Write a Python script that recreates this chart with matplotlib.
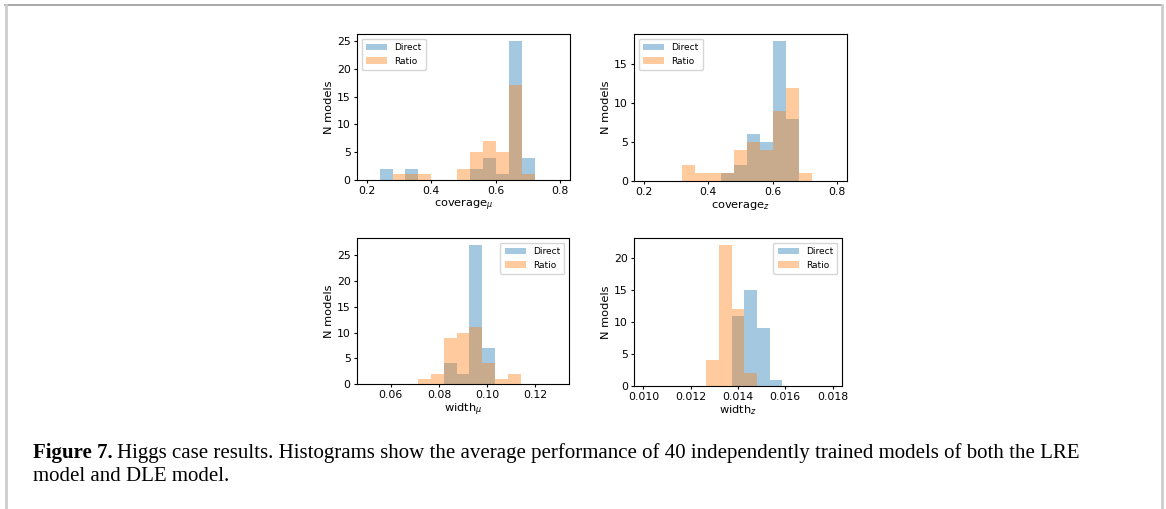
import numpy as np
import matplotlib
matplotlib.use("Agg")
import matplotlib.pyplot as plt
from matplotlib.lines import Line2D
from matplotlib.text import Annotation

# Histogram counts (15 bins over each range)
COV_MU_RANGE = (0.2, 0.8)
COV_MU_DIRECT = [0, 2, 0, 2, 0, 0, 0, 0, 2, 4, 1, 25, 4, 0, 0]
COV_MU_RATIO = [0, 0, 1, 1, 1, 0, 0, 2, 5, 7, 5, 17, 1, 0, 0]

COV_Z_RANGE = (0.2, 0.8)
COV_Z_DIRECT = [0, 0, 0, 0, 0, 0, 1, 2, 6, 5, 18, 8, 0, 0, 0]
COV_Z_RATIO = [0, 0, 0, 2, 1, 1, 1, 4, 5, 4, 9, 12, 1, 0, 0]

WID_MU_RANGE = (0.05, 0.13)
WID_MU_DIRECT = [0, 0, 0, 0, 0, 0, 4, 2, 27, 7, 0, 0, 0, 0, 0]
WID_MU_RATIO = [0, 0, 0, 0, 1, 2, 9, 10, 11, 4, 1, 2, 0, 0, 0]

WID_Z_RANGE = (0.010, 0.018)
WID_Z_DIRECT = [0, 0, 0, 0, 0, 0, 0, 11, 15, 9, 1, 0, 0, 0, 0]
WID_Z_RATIO = [0, 0, 0, 0, 0, 4, 22, 12, 2, 0, 0, 0, 0, 0, 0]

PANELS = [
    (COV_MU_RANGE, COV_MU_DIRECT, COV_MU_RATIO, r"coverage$_{\mu}$", "upper left",
     [0.2, 0.4, 0.6, 0.8], ["0.2", "0.4", "0.6", "0.8"], [0, 5, 10, 15, 20, 25]),
    (COV_Z_RANGE, COV_Z_DIRECT, COV_Z_RATIO, r"coverage$_{z}$", "upper left",
     [0.2, 0.4, 0.6, 0.8], ["0.2", "0.4", "0.6", "0.8"], [0, 5, 10, 15]),
    (WID_MU_RANGE, WID_MU_DIRECT, WID_MU_RATIO, r"width$_{\mu}$", "upper right",
     [0.06, 0.08, 0.10, 0.12], ["0.06", "0.08", "0.10", "0.12"], [0, 5, 10, 15, 20, 25]),
    (WID_Z_RANGE, WID_Z_DIRECT, WID_Z_RATIO, r"width$_{z}$", "upper right",
     [0.010, 0.012, 0.014, 0.016, 0.018], ["0.010", "0.012", "0.014", "0.016", "0.018"],
     [0, 5, 10, 15, 20]),
]

CAPTION_HEAD = "Figure 7."
CAPTION_LINE1 = ("Higgs case results. Histograms show the average performance of 40 "
                 "independently trained models of both the LRE")
CAPTION_LINE2 = "model and DLE model."

W, H = 1166, 509
# axes boxes in pixels: left, right, top, bottom
BOXES = [(357, 570, 34, 180), (634, 847, 34, 181), (357, 569, 238, 384), (634, 842, 238, 386)]

fig = plt.figure(figsize=(W / 100, H / 100), dpi=100)

# frame around the figure/caption block
fig.add_artist(Line2D([5 / W, 1162 / W], [1 - 5 / H, 1 - 5 / H], color="#999999", lw=1.2))
fig.add_artist(Line2D([6 / W, 6 / W], [0, 1 - 5 / H], color="#cccccc", lw=2))
fig.add_artist(Line2D([1162 / W, 1162 / W], [0, 1 - 5 / H], color="#cccccc", lw=2))

for (rng, direct, ratio, xlabel, loc, xt, xtl, yt), (l, r, t, b) in zip(PANELS, BOXES):
    ax = fig.add_axes([l / W, 1 - b / H, (r - l) / W, (b - t) / H])
    edges = np.linspace(rng[0], rng[1], len(direct) + 1)
    centers = 0.5 * (edges[:-1] + edges[1:])
    ax.hist(centers, bins=edges, weights=direct, alpha=0.4, color="tab:blue", label="Direct")
    ax.hist(centers, bins=edges, weights=ratio, alpha=0.4, color="tab:orange", label="Ratio")
    ax.set_xticks(xt)
    ax.set_xticklabels(xtl)
    ax.set_yticks(yt)
    ax.tick_params(labelsize=7.8, length=2.5, width=0.8, pad=2)
    ax.set_xlabel(xlabel, fontsize=8.2, labelpad=1)
    ax.set_ylabel("N models", fontsize=8.2, labelpad=2)
    for s in ax.spines.values():
        s.set_linewidth(0.8)
    ax.legend(loc=loc, fontsize=6.5, handlelength=2.3, borderpad=0.5, labelspacing=0.5)

cap_kw = dict(fontsize=15, family="Liberation Serif", va="bottom", ha="left")
head = fig.text(33 / W, 1 - 463 / H, CAPTION_HEAD, fontweight="bold", **cap_kw)
fig.add_artist(Annotation(CAPTION_LINE1, xy=(1, 0), xycoords=head, xytext=(3, 0),
                          textcoords="offset points", **cap_kw))
fig.text(33 / W, 1 - 486 / H, CAPTION_LINE2, **cap_kw)

fig.savefig("out.png", dpi=100, facecolor="white")
